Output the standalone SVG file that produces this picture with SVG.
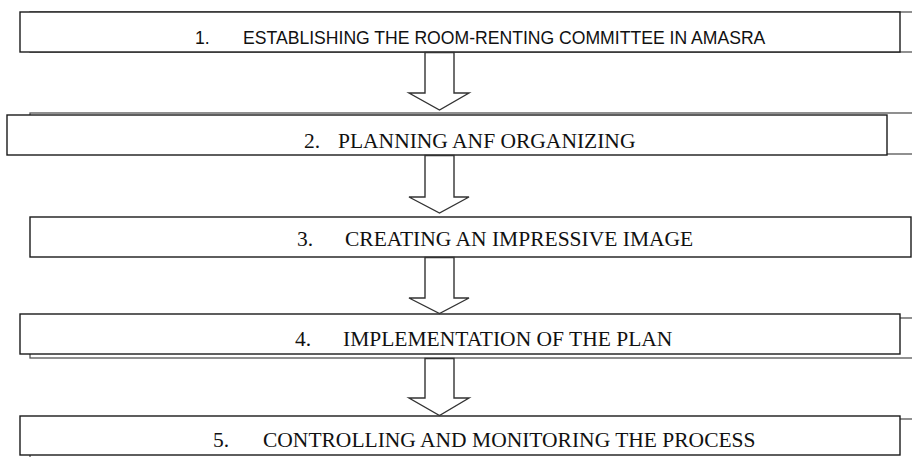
<svg xmlns="http://www.w3.org/2000/svg" width="912" height="457" viewBox="0 0 912 457">
  <style>
    .back { fill: #ffffff; stroke: #555555; stroke-width: 1.3; }
    .box { fill: #ffffff; stroke: #1a1a1a; stroke-width: 1.4; }
    .sans { font-family: "Liberation Sans", Arial, sans-serif; font-size: 17.6px; fill: #111111; }
    .serif { font-family: "Liberation Serif", "Times New Roman", serif; font-size: 21.5px; fill: #111111; }
    .arrow { fill: #ffffff; stroke: #333333; stroke-width: 1.4; stroke-linejoin: miter; }
  </style>
  <rect x="0" y="0" width="912" height="457" fill="#ffffff"/>

  <g id="node1">
    <rect class="back" x="30" y="12" width="890" height="40"/>
    <rect class="box" x="20" y="12" width="880" height="40"/>
    <text class="sans" y="44"><tspan x="195">1.</tspan><tspan x="243">ESTABLISHING THE ROOM-RENTING COMMITTEE IN AMASRA</tspan></text>
  </g>

  <g id="node2">
    <rect class="back" x="30" y="113" width="890" height="41"/>
    <rect class="box" x="7" y="115" width="880" height="40"/>
    <text class="serif" y="148"><tspan x="304">2.</tspan><tspan x="338">PLANNING ANF ORGANIZING</tspan></text>
  </g>

  <g id="node3">
    <rect class="box" x="30" y="217" width="881" height="40"/>
    <text class="serif" y="246"><tspan x="297">3.</tspan><tspan x="345">CREATING AN IMPRESSIVE IMAGE</tspan></text>
  </g>

  <g id="node4">
    <rect class="back" x="30" y="318" width="890" height="40"/>
    <rect class="box" x="20" y="314" width="880" height="40"/>
    <text class="serif" y="346"><tspan x="295">4.</tspan><tspan x="343">IMPLEMENTATION OF THE PLAN</tspan></text>
  </g>

  <g id="node5">
    <rect class="back" x="30" y="419" width="890" height="42"/>
    <rect class="box" x="20" y="416" width="880" height="39"/>
    <text class="serif" y="447"><tspan x="213">5.</tspan><tspan x="263">CONTROLLING AND MONITORING THE PROCESS</tspan></text>
  </g>

  <g id="connectors">
    <polygon class="arrow" points="425,52.5 454,52.5 454,93 469,93 439.5,110 409,93 425,93"/>
    <polygon class="arrow" points="425,155.5 454,155.5 454,197 469,197 439.5,213 409,197 425,197"/>
    <polygon class="arrow" points="425,257.5 454,257.5 454,298 469,298 439.5,313.5 409,298 425,298"/>
    <polygon class="arrow" points="425,358.5 454,358.5 454,398 469,398 439.5,415.5 409,398 425,398"/>
  </g>
</svg>
